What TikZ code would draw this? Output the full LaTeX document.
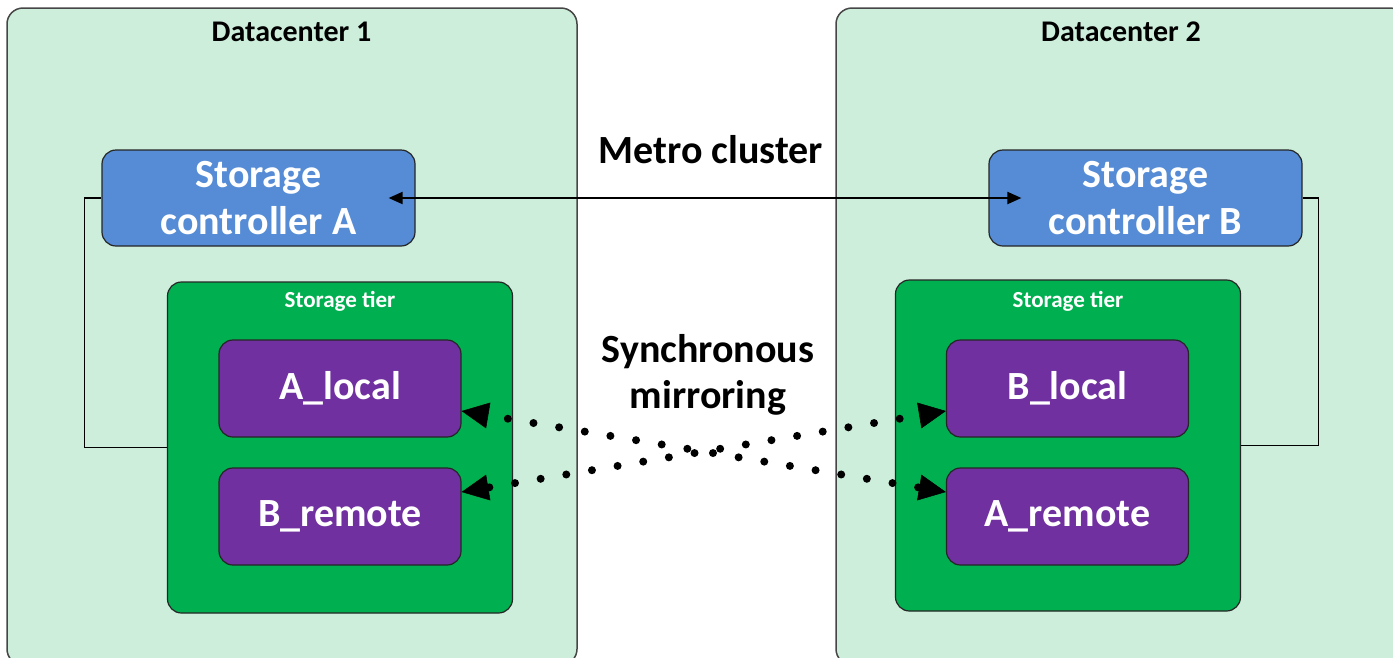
\documentclass[tikz,border=0pt]{standalone}
\usepackage{fontspec}
\setmainfont{Carlito}
\usetikzlibrary{arrows.meta}
\definecolor{dcfill}{RGB}{204,238,218}
\definecolor{dcline}{RGB}{70,70,70}
\definecolor{ctrlblue}{RGB}{85,140,213}
\definecolor{tiergreen}{RGB}{0,176,80}
\definecolor{volpurple}{RGB}{112,48,160}
\tikzset{
  dcbox/.style={draw=dcline, line width=1.5pt, fill=dcfill, rounded corners=16pt,
    minimum width=570pt, minimum height=657pt, inner sep=0pt},
  ctrlbox/.style={draw=black!85, line width=1.2pt, fill=ctrlblue, rounded corners=14pt,
    minimum width=313pt, minimum height=96pt, inner sep=0pt, align=center,
    text=white, font=\bfseries\fontsize{40}{47}\selectfont},
  tierbox/.style={draw=black!85, line width=1.2pt, fill=tiergreen, rounded corners=14pt,
    minimum width=345pt, minimum height=331pt, inner sep=0pt},
  volbox/.style={draw=black!85, line width=1.2pt, fill=volpurple, rounded corners=14pt,
    minimum width=242pt, minimum height=97pt, inner sep=0pt,
    text=white, font=\bfseries\fontsize{40}{47}\selectfont},
  dclabel/.style={font=\bfseries\fontsize{30}{36}\selectfont, inner sep=0pt},
  tierlabel/.style={text=white, font=\bfseries\fontsize{23}{28}\selectfont, inner sep=0pt},
  biglabel/.style={font=\bfseries\fontsize{40}{46}\selectfont, align=center, inner sep=0pt},
  thinlink/.style={draw=black, line width=1.1pt},
  metro/.style={draw=black, line width=2pt, {Triangle[length=14pt,width=12pt]}-{Triangle[length=14pt,width=12pt]}},
  mirror/.style={draw=black, line width=8pt, line cap=round, dash pattern=on 0pt off 26pt, dash phase=6pt,
    {Triangle[length=27pt,width=26pt,line width=0.5pt]}-{Triangle[length=27pt,width=26pt,line width=0.5pt]}}
}
\begin{document}
\begin{tikzpicture}[x=1pt,y=-1pt]
\useasboundingbox (0,0) rectangle (1393,657);
\clip (0,0) rectangle (1393,657);
% datacenters
\node[dcbox] (dc1) at (292,336.5) {};
\node[dcbox] (dc2) at (1121,336.5) {};
\node[dclabel] (dc1l) at (291.5,32) {Datacenter 1};
\node[dclabel] (dc2l) at (1121,32) {Datacenter 2};
% controllers
\node[ctrlbox] (ctrlA) at (258.5,198) {Storage\\controller A};
\node[ctrlbox] (ctrlB) at (1145.5,198) {Storage\\controller B};
% tiers
\node[tierbox] (tierA) at (340,447.5) {};
\node[tierbox] (tierB) at (1068,445.5) {};
\node[tierlabel] (tierAl) at (340,301) {Storage tier};
\node[tierlabel] (tierBl) at (1068,301) {Storage tier};
% volumes
\node[volbox] (alocal) at (340,388.5) {A\_local};
\node[volbox] (bremote) at (340,516.5) {B\_remote};
\node[volbox] (blocal) at (1067.5,388.5) {B\_local};
\node[volbox] (aremote) at (1067.5,516.5) {A\_remote};
% labels
\node[biglabel] (metrol) at (711,150) {Metro cluster};
\node[biglabel] (syncl) at (708,375) {Synchronous\\mirroring};
% thin links controller to tier
\draw[thinlink] (ctrlA.west) -- ++(-17,0) |- (tierA.west);
\draw[thinlink] (ctrlB.east) -- ++(16,0) |- (tierB.east);
% metro cluster arrow
\draw[metro] ([xshift=-27pt]ctrlA.east) -- ([xshift=33pt]ctrlB.west);
% mirroring
\draw[mirror] ([yshift=-22.5pt]alocal.east) -- ([yshift=24.5pt]aremote.west);
\draw[mirror] ([yshift=-22.5pt]blocal.west) -- ([yshift=24.5pt]bremote.east);
\end{tikzpicture}
\end{document}
